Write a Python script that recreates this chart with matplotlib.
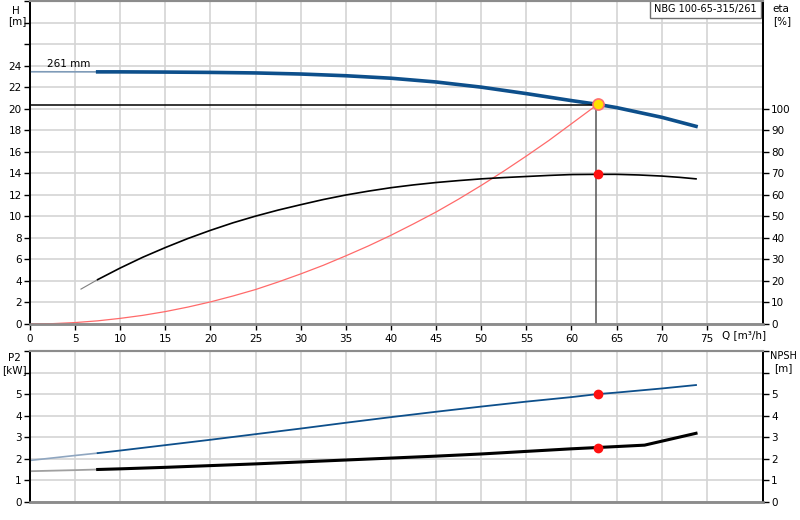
import matplotlib.pyplot as plt
import numpy as np

# pump curve data
q_h = [0, 7.5, 10, 15, 20, 25, 30, 35, 40, 45, 50, 55, 60, 62.9, 65, 70, 73.8]
h = [23.43, 23.42, 23.42, 23.4, 23.37, 23.32, 23.22, 23.06, 22.83, 22.48, 22.0, 21.4, 20.75, 20.4, 20.1, 19.2, 18.36]

q_eta = [5.65, 7.5, 10, 12.5, 15, 17.5, 20, 22.5, 25, 27.5, 30, 32.5, 35, 37.5, 40, 42.5, 45,
         47.5, 50, 52.5, 55, 57.5, 60, 62.9, 65, 67.5, 70, 72, 73.8]
eta = [16.2, 20.6, 26.0, 31.0, 35.5, 39.7, 43.5, 47.0, 50.1, 52.9, 55.4, 57.8, 59.9, 61.7, 63.3,
       64.6, 65.7, 66.6, 67.4, 68.0, 68.5, 69.0, 69.4, 69.5, 69.5, 69.2, 68.7, 68.1, 67.4]

q_sys = [0, 2.5, 5, 7.5, 10, 12.5, 15, 17.5, 20, 22.5, 25, 27.5, 30, 32.5, 35, 37.5, 40,
         42.5, 45, 47.5, 50, 52.5, 55, 57.5, 60, 62.9]
h_sys = [0, 0.03, 0.13, 0.29, 0.52, 0.8, 1.15, 1.57, 2.05, 2.6, 3.2, 3.9, 4.65, 5.45, 6.33,
         7.25, 8.24, 9.3, 10.4, 11.6, 12.87, 14.2, 15.6, 17.05, 18.6, 20.4]

q_p2 = [0, 5, 7.5, 10, 15, 20, 25, 30, 35, 40, 45, 50, 55, 60, 62.9, 65, 70, 73.8]
p2 = [1.92, 2.15, 2.26, 2.38, 2.63, 2.88, 3.14, 3.4, 3.67, 3.93, 4.18, 4.42, 4.65, 4.86,
      5.0, 5.07, 5.26, 5.42]

q_npsh = [0, 5, 7.5, 10, 15, 20, 25, 30, 35, 40, 45, 50, 55, 60, 62.9, 68.1, 73.8]
npsh = [1.42, 1.47, 1.5, 1.53, 1.6, 1.68, 1.76, 1.85, 1.94, 2.03, 2.12, 2.22, 2.34, 2.46,
        2.52, 2.63, 3.18]

duty_q = 62.9
duty_h = 20.4
duty_eta = 69.5
duty_p2 = 5.0
duty_npsh = 2.52

x_ticks = list(range(0, 80, 5))
h_ticks = list(range(0, 31, 2))
eta_ticks = list(range(0, 101, 10))
low_ticks = list(range(0, 8))

blue = '#0d4f8b'
grid_c = '#d4d4d4'

plt.rcParams['font.family'] = ['DejaVu Sans']
fig = plt.figure(figsize=(8, 5.2), dpi=100)
ax1 = fig.add_axes([0.0375, 0.377, 0.916, 0.621])
ax2 = fig.add_axes([0.0375, 0.035, 0.916, 0.29])
ax1r = ax1.twinx()
ax2r = ax2.twinx()

def style(ax, axr, ymax, yt, ylabels, rmax, rt, rlabels):
    ax.set_xlim(0, 81.2)
    ax.set_ylim(0, ymax)
    axr.set_ylim(0, rmax)
    ax.set_xticks(x_ticks)
    ax.set_yticks(yt)
    ax.set_yticklabels(ylabels)
    axr.set_yticks(rt)
    axr.set_yticklabels(rlabels)
    ax.grid(True, color=grid_c, linewidth=1.2)
    ax.set_axisbelow(True)
    for a in (ax, axr):
        a.spines['top'].set_color('#8c8c8c')
        a.spines['bottom'].set_color('#8c8c8c')
        a.spines['top'].set_linewidth(1.5)
        a.spines['bottom'].set_linewidth(1.8)
        a.spines['left'].set_linewidth(1.3)
        a.spines['right'].set_linewidth(1.3)
        a.tick_params(labelsize=7.5, length=4, width=1, pad=2)

style(ax1, ax1r, 30, h_ticks, [str(t) if t <= 24 else '' for t in h_ticks],
      150, eta_ticks, [str(t) for t in eta_ticks])
ax1.set_xticklabels([str(t) for t in x_ticks])
ax1.tick_params(axis='x', pad=3)

low_labels = [str(t) if t <= 5 else '' for t in low_ticks]
style(ax2, ax2r, 7, low_ticks, low_labels, 7, low_ticks, low_labels)
ax2.set_xticklabels([])
ax2.tick_params(axis='x', length=0)

# H curve, lighter at the start
ax1.plot(q_h[:2], h[:2], color='#7f9bb8', linewidth=1.2, zorder=3)
ax1.plot(q_h[1:], h[1:], color=blue, linewidth=2.6, zorder=3)
ax1.text(1.9, 23.9, '261 mm', fontsize=7.5)

# system curve and duty lines
ax1.plot(q_sys, h_sys, color='#ff6a6a', linewidth=0.9, zorder=3)
ax1.plot([0, duty_q], [duty_h - 0.1, duty_h - 0.1], color='black', linewidth=1.1, zorder=3)
ax1.plot([duty_q - 0.2, duty_q - 0.2], [0, duty_h], color='#555555', linewidth=1.1, zorder=3)

# efficiency
ax1r.plot(q_eta[:2], eta[:2], color='#808080', linewidth=0.8)
ax1r.plot(q_eta[1:], eta[1:], color='black', linewidth=1.2)
ax1r.plot([duty_q], [duty_eta], 'o', color='#ff1010', markersize=6, zorder=5)
ax1.plot([duty_q], [duty_h], 'o', markerfacecolor='#ffe000', markeredgecolor='#ff7070',
         markersize=8, markeredgewidth=1.2, zorder=6)

# lower plot
ax2.plot(q_p2[:3], p2[:3], color='#8fa6c0', linewidth=1.2)
ax2.plot(q_p2[2:], p2[2:], color=blue, linewidth=1.3)
ax2.plot([duty_q], [duty_p2], 'o', color='#ff1010', markersize=6, zorder=5)
ax2r.plot(q_npsh[:3], npsh[:3], color='#a0a0a0', linewidth=1.3)
ax2r.plot(q_npsh[2:], npsh[2:], color='black', linewidth=2.2)
ax2r.plot([duty_q], [duty_npsh], 'o', color='#ff1010', markersize=6, zorder=5)

# axis labels
fig.text(16 / 800, 1 - 14 / 520, 'H', ha='center', fontsize=7.5)
fig.text(17 / 800, 1 - 24 / 520, '[m]', ha='center', fontsize=7.5)
fig.text(781 / 800, 1 - 12 / 520, 'eta', ha='center', fontsize=7.5)
fig.text(782 / 800, 1 - 24 / 520, '[%]', ha='center', fontsize=7.5)
fig.text(14 / 800, 1 - 361 / 520, 'P2', ha='center', fontsize=7.5)
fig.text(14 / 800, 1 - 373 / 520, '[kW]', ha='center', fontsize=7.5)
fig.text(783 / 800, 1 - 359 / 520, 'NPSH', ha='center', fontsize=7)
fig.text(783 / 800, 1 - 371 / 520, '[m]', ha='center', fontsize=7.5)
fig.text(722 / 800, 1 - 338 / 520, 'Q [m³/h]', ha='left', fontsize=7.5)

ax1.text(0.992, 0.99, 'NBG 100-65-315/261', transform=ax1.transAxes, ha='right', va='top',
         fontsize=7, zorder=10,
         bbox=dict(boxstyle='square,pad=0.4', facecolor='white', edgecolor='#707070', linewidth=1))

fig.savefig('out.png', dpi=100)
